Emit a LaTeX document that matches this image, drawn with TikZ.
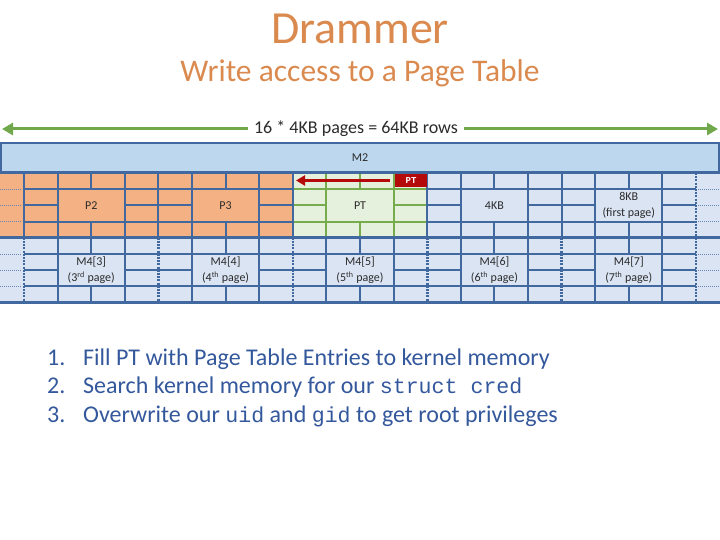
\documentclass[tikz,border=0pt]{standalone}
\usepackage{fontspec}
\setmainfont{Carlito}
\setmonofont[Scale=0.9]{Liberation Mono}
\usetikzlibrary{arrows.meta,positioning,calc}

\definecolor{titleorange}{HTML}{DA8A4F}
\definecolor{listblue}{HTML}{34589C}
\definecolor{gridblue}{HTML}{41699F}
\definecolor{barblue}{HTML}{BDD7EE}
\definecolor{cellblue}{HTML}{DAE4F3}
\definecolor{cellorange}{HTML}{F4B183}
\definecolor{cellgreen}{HTML}{E5F0DD}
\definecolor{ptgreen}{HTML}{76AC4C}
\definecolor{arrowgreen}{HTML}{70A84B}
\definecolor{ptred}{HTML}{B50A0A}
\definecolor{textgray}{HTML}{2B2B2B}

\begin{document}
\begin{tikzpicture}[x=1pt, y=-1pt,
                    title/.style = {anchor=base, text=titleorange, inner sep=0pt},
                    gridline/.style = {draw=gridblue, line width=2pt},
                    ptline/.style = {draw=ptgreen, line width=2pt},
                    halfline/.style = {draw=gridblue, line width=2.8pt},
                    pageedge/.style = {draw=gridblue, line width=2.6pt, dash pattern=on 2pt off 1.2pt},
                    marginline/.style = {draw=gridblue!80, line width=1pt, dash pattern=on 1pt off 1pt},
                    rowbar/.style = {rectangle, fill=barblue, draw=gridblue, line width=2pt,
                            minimum width=718pt, minimum height=29pt, font=\fontsize{12}{14}\selectfont, text=textgray},
                    celltext/.style = {align=center, text=textgray, font=\fontsize{12}{16}\selectfont},
                    pttag/.style = {rectangle, fill=ptred, text=white, minimum width=32pt, minimum height=13pt,
                            inner sep=0pt, font=\ttfamily\bfseries\fontsize{10}{10}\selectfont},
                    rowarrow/.style = {draw=arrowgreen, line width=3pt, -{Triangle[length=11pt,width=12pt]}},
                    ptarrow/.style = {draw=ptred, line width=3pt, -{Triangle[length=9pt,width=10pt]}},
                    itemnum/.style = {anchor=base west, inner sep=0pt, text=listblue, font=\fontsize{24}{28}\selectfont},
                    itemtext/.style = {itemnum} ]

    \useasboundingbox (0,0) rectangle (720,540);

    % titles
    \node [title, font=\fontsize{46}{50}\selectfont] (title) at (360,44) {Drammer};
    \node [title, font=\fontsize{31.5}{36}\selectfont] (subtitle) at (360,82) {Write access to a Page Table};

    % row width
    \node [font=\fontsize{18}{20}\selectfont, text=textgray, inner sep=6pt] (rowlabel) at (356,129) {16 * 4KB pages = 64KB rows};
    \coordinate (rowleft) at (2,129);
    \coordinate (rowright) at (718,129);
    \draw [rowarrow] (rowlabel.west) -- (rowleft);
    \draw [rowarrow] (rowlabel.east) -- (rowright);

    % memory row
    \node [rowbar] (m2) at (360,158) {M2};
    \fill [cellorange] (0,173) rectangle (292.8,237.8);
    \fill [cellgreen] (292.8,173) rectangle (427.2,237.8);
    \fill [cellblue] (427.2,173) rectangle (720,237.8);
    \fill [cellblue] (0,237.8) rectangle (720,302.6);

    % cells of each 4KB page
    \foreach \p in {0,...,4} {
        \foreach \h in {0,1} {
            \pgfmathsetmacro\bx{24+134.4*\p}
            \pgfmathsetmacro\by{173+64.8*\h}
            \draw [gridline] (\bx,\by+16.2) -- ++(134.4,0) (\bx,\by+48.6) -- ++(134.4,0)
                (\bx,\by+32.4) -- ++(33.6,0) (\bx+100.8,\by+32.4) -- ++(33.6,0)
                (\bx+33.6,\by) -- ++(0,64.8) (\bx+100.8,\by) -- ++(0,64.8)
                (\bx+67.2,\by) -- ++(0,16.2) (\bx+67.2,\by+48.6) -- ++(0,16.2);
        }
    }
    % page table cells
    \draw [ptline] (292.8,189.2) -- ++(134.4,0) (292.8,221.6) -- ++(134.4,0)
        (292.8,205.4) -- ++(33.6,0) (393.6,205.4) -- ++(33.6,0)
        (326.4,173) -- ++(0,64.8) (393.6,173) -- ++(0,64.8)
        (360,173) -- ++(0,16.2) (360,221.6) -- ++(0,16.2);

    % page edges
    \foreach \x in {24,158.4,292.8,427.2,561.6}
        \draw [gridline] (\x,173) -- (\x,237.8);
    \draw [pageedge] (696,173) -- (696,237.8);
    \foreach \x in {24,158.4,292.8,427.2,561.6,696}
        \draw [pageedge] (\x,237.8) -- (\x,302.6);
    \foreach \y in {173,237.8,302.6}
        \draw [halfline] (0,\y) -- (720,\y);
    \foreach \y in {189.2,205.4,221.6,254,270.2,286.4}
        \draw [marginline] (0,\y) -- (22,\y) (698,\y) -- (720,\y);

    % page labels
    \node [celltext] (p2) at (91.2,205.4) {P2};
    \node [celltext] (p3) at (225.6,205.4) {P3};
    \node [celltext] (pt) at (360,205.4) {PT};
    \node [celltext] (kb4) at (494.4,205.4) {4KB};
    \node [celltext] (kb8) at (628.8,205.4) {8KB\\(first page)};
    \node [celltext] (m43) at (91.2,270.2) {M4[3]\\(3\textsuperscript{rd} page)};
    \node [celltext] (m44) at (225.6,270.2) {M4[4]\\(4\textsuperscript{th} page)};
    \node [celltext] (m45) at (360,270.2) {M4[5]\\(5\textsuperscript{th} page)};
    \node [celltext] (m46) at (494.4,270.2) {M4[6]\\(6\textsuperscript{th} page)};
    \node [celltext] (m47) at (628.8,270.2) {M4[7]\\(7\textsuperscript{th} page)};

    % page table pointer
    \node [pttag] (pttag) at (411,180.5) {PT};
    \coordinate (ptend) at (296,180.5);
    \draw [ptarrow, shorten <=5pt] (pttag.west) -- (ptend);

    % steps
    \node [itemnum] (n1) at (47,365) {1.};
    \node [itemnum] (n2) at (47,393.5) {2.};
    \node [itemnum] (n3) at (47,422) {3.};
    \node [itemtext] (s1) at (83,365) {Fill PT with Page Table Entries to kernel memory};
    \node [itemtext] (s2) at (83,393.5) {Search kernel memory for our \texttt{struct cred}};
    \node [itemtext] (s3) at (83,422) {Overwrite our \texttt{uid} and \texttt{gid} to get root privileges};

\end{tikzpicture}
\end{document}
